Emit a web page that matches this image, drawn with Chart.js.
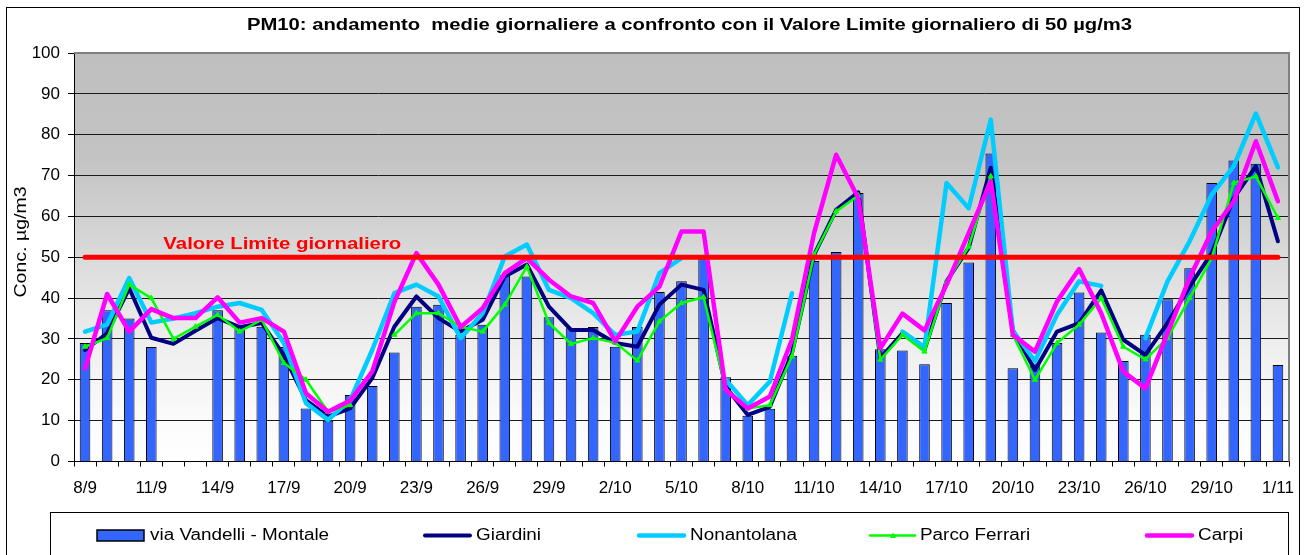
<!DOCTYPE html>
<html><head><meta charset="utf-8">
<script src="https://cdn.jsdelivr.net/npm/chart.js@4/dist/chart.umd.min.js"></script>
<style>html,body{margin:0;padding:0;background:#fff;}canvas{display:block}</style>
</head><body>
<canvas id="c" width="1304" height="555"></canvas>
<script>
const dates = ['8/9','9/9','10/9','11/9','12/9','13/9','14/9','15/9','16/9','17/9','18/9','19/9','20/9','21/9','22/9','23/9','24/9','25/9','26/9','27/9','28/9','29/9','30/9',
  '1/10','2/10','3/10','4/10','5/10','6/10','7/10','8/10','9/10','10/10','11/10','12/10','13/10','14/10','15/10','16/10','17/10','18/10','19/10','20/10','21/10','22/10','23/10','24/10','25/10','26/10','27/10','28/10','29/10','30/10','31/10','1/11'];
const vandelli = [29,37,35,28,null,null,37,33,33,28,13,10,16.3,18.5,26.7,37.9,38.4,31,33.5,45.6,45.3,35.3,32.6,
  32.9,28.1,32.9,41.5,44.1,49.8,20.6,11.2,12.9,25.9,49.1,51.3,65.7,27.5,27.2,23.8,38.8,48.7,75.4,22.8,24,29,41.4,31.6,24.6,31,39.7,47.3,68.2,73.7,72.9,23.6];
const giardini = [27.3,31.4,42.4,30.3,28.8,32,35.1,32.9,33.9,26,15,11,13,20.4,33,40.4,35.1,31.8,34.7,45.3,48.2,37.9,32.2,
  32.2,29,28.1,38.4,43.3,42,18.3,11.4,13.4,26.5,50.6,61.6,65.9,25.3,31.4,27.3,44.1,52.3,71.9,32.2,22.4,31.8,33.9,41.9,29.8,26.1,33.9,42.8,51,64.5,72.3,53.9];
const nonantolana = [31.8,33.5,44.9,34,35,36.3,37.9,38.8,37.1,29,14.3,10.2,15,27.3,41.2,43.3,40.4,30.2,36.3,50.2,53.1,42,40,
  36.3,31,31.8,46.1,49.8,null,20,13.8,19.6,41.2,null,null,null,null,31.8,28,68.2,62,83.7,32,24.6,35.9,44.1,43,null,30.2,44.1,53.9,65.3,72.3,85.2,72];
const parcoFerrari = [28.1,30.2,43.3,40,30,33,35.9,31.8,34.7,24.1,20,12.2,13.8,null,31,36.3,36.3,33,31.8,38.4,47.7,33.9,28.8,
  30.2,29.1,24.7,34.3,38.8,40.2,17.9,13,13.8,25.7,50.6,61.2,65.1,24.9,31,26.9,43.8,52.6,69.8,31,20,29,33.5,40,28.1,25,30.2,40,49.8,68.2,69.8,59.6];
const carpi = [22.8,41,31.8,37.3,35.1,35.1,40.2,34,35.1,31.8,16.7,12.2,14.9,22,39,51,43.3,32.9,37.5,46.1,49.8,44.5,40.4,
  38.8,29.4,37.9,42.8,56.3,56.3,17.5,13,15.9,29.8,55.9,75.1,64.5,27.7,36.2,32.1,43.3,55.9,68.6,31,26.9,39.2,47.1,36.3,22,17.9,31.4,44.9,56.3,63.7,78.4,63.7];
const limitValue = 50;
const yMin = 0, yMax = 100, yStep = 10;
const titleText = 'PM10: andamento  medie giornaliere a confronto con il Valore Limite giornaliero di 50 µg/m3';
const yTitleText = 'Conc. µg/m3';
const limitLabel = 'Valore Limite giornaliero';
const seriesNames = ['via Vandelli - Montale','Giardini','Nonantolana','Parco Ferrari','Carpi'];

const FONT = '"Liberation Sans", Arial, sans-serif';

function stretchText(ctx, s, x, y, font, color, align, sx, rot) {
  ctx.save();
  ctx.font = font; ctx.fillStyle = color; ctx.textBaseline = 'middle'; ctx.textAlign = align;
  ctx.translate(x, y);
  if (rot) ctx.rotate(rot);
  ctx.scale(sx, 1);
  ctx.fillText(s, 0, 0);
  ctx.restore();
}
function fitScale(ctx, s, font, w) { ctx.save(); ctx.font = font; const m = ctx.measureText(s).width; ctx.restore(); return w / m; }

const deco = {
  id: 'deco',
  beforeDraw(chart) {
    const ctx = chart.ctx, a = chart.chartArea;
    ctx.save();
    ctx.fillStyle = '#fff'; ctx.fillRect(0, 0, chart.width, chart.height);
    const g = ctx.createLinearGradient(0, a.top, 0, a.bottom);
    g.addColorStop(0, '#bfbfbf'); g.addColorStop(0.25, '#c3c3c3'); g.addColorStop(0.45, '#d5d5d5');
    g.addColorStop(0.6, '#e4e4e4'); g.addColorStop(0.75, '#f1f1f1'); g.addColorStop(0.9, '#fbfbfb'); g.addColorStop(1, '#ffffff');
    ctx.fillStyle = g; ctx.fillRect(a.left, a.top, a.right - a.left, a.bottom - a.top);
    ctx.strokeStyle = '#000'; ctx.lineWidth = 1;
    ctx.strokeRect(6.5, 7.5, 1293, 560);
    ctx.restore();
  },
  afterDraw(chart) {
    const ctx = chart.ctx, a = chart.chartArea;
    const xs = chart.scales.x, ys = chart.scales.y;
    ctx.save();
    ctx.strokeStyle = '#808080'; ctx.lineWidth = 2;
    ctx.beginPath(); ctx.moveTo(a.left, a.top); ctx.lineTo(a.right, a.top); ctx.lineTo(a.right, a.bottom); ctx.stroke();
    const tf = 'bold 16px ' + FONT;
    stretchText(ctx, titleText, (a.left + a.right) / 2 + 8, 26, tf, '#000', 'center', fitScale(ctx, titleText, tf, 885));
    const yf = '16px ' + FONT;
    stretchText(ctx, yTitleText, 22, 242, yf, '#000', 'center', fitScale(ctx, yTitleText, yf, 111), -Math.PI / 2);
    const lf = 'bold 17px ' + FONT;
    stretchText(ctx, limitLabel, xs.getPixelForValue(3) + 12, ys.getPixelForValue(limitValue) - 13, lf, '#ff0000', 'left', fitScale(ctx, limitLabel, lf, 238));
    ctx.strokeStyle = '#000'; ctx.lineWidth = 1;
    ctx.strokeRect(50.5, 512.5, 1238, 60);
    const ly = 535.5;
    const ds = chart.data.datasets;
    const legendX = [[97, 150], [423, 476], [637, 690], [868, 920], [1145, 1198]];
    const lgf = '16px ' + FONT;
    for (let i = 0; i < 5; i++) {
      const d = ds[i], sx = legendX[i][0];
      if (i === 0) {
        ctx.fillStyle = d.backgroundColor; ctx.fillRect(sx, ly - 5.5, 47, 11);
        ctx.strokeStyle = '#000'; ctx.lineWidth = 1.5; ctx.strokeRect(sx, ly - 5.5, 47, 11);
      } else {
        ctx.strokeStyle = d.borderColor; ctx.lineWidth = d.borderWidth; ctx.lineCap = 'round';
        ctx.beginPath(); ctx.moveTo(sx + 2, ly); ctx.lineTo(sx + 47, ly); ctx.stroke();
        if (d.pointRadius > 0) {
          ctx.fillStyle = d.borderColor; ctx.beginPath();
          ctx.moveTo(sx + 25, ly - 3); ctx.lineTo(sx + 28, ly + 2.5); ctx.lineTo(sx + 22, ly + 2.5); ctx.closePath(); ctx.fill();
        }
      }
      stretchText(ctx, seriesNames[i], legendX[i][1], ly, lgf, '#000', 'left', 1.18);
    }
    ctx.restore();
  }
};

const lineBase = { type: 'line', pointRadius: 0, pointHoverRadius: 0, tension: 0, spanGaps: false, borderJoinStyle: 'round', borderCapStyle: 'round', fill: false };

new Chart(document.getElementById('c'), {
  type: 'bar',
  data: {
    labels: dates,
    datasets: [
      { type: 'bar', label: seriesNames[0], data: vandelli, backgroundColor: '#3366ff', borderColor: '#000', borderWidth: 1, barPercentage: 0.48, categoryPercentage: 1, order: 10 },
      Object.assign({}, lineBase, { label: seriesNames[1], data: giardini, borderColor: '#000080', borderWidth: 4, order: 5 }),
      Object.assign({}, lineBase, { label: seriesNames[2], data: nonantolana, borderColor: '#00ccff', borderWidth: 4.5, order: 4 }),
      Object.assign({}, lineBase, { label: seriesNames[3], data: parcoFerrari, borderColor: '#00ff00', borderWidth: 2.5, order: 3,
        pointRadius: 3, pointStyle: 'triangle', pointBackgroundColor: '#00ff00', pointBorderColor: '#00ff00', pointBorderWidth: 1 }),
      Object.assign({}, lineBase, { label: seriesNames[4], data: carpi, borderColor: '#ff00ff', borderWidth: 4.5, order: 2 }),
      Object.assign({}, lineBase, { label: 'Valore Limite', data: dates.map(() => limitValue), borderColor: '#ff0000', borderWidth: 5, order: 1 })
    ]
  },
  options: {
    responsive: false, animation: false, devicePixelRatio: 1,
    events: [],
    layout: { padding: { left: 0, right: 15, top: 53, bottom: 0 } },
    plugins: { legend: { display: false }, tooltip: { enabled: false }, title: { display: false } },
    scales: {
      x: {
        type: 'category', offset: true,
        grid: { display: true, drawOnChartArea: false, drawTicks: true, tickLength: 5, color: '#000', offset: true },
        border: { display: true, color: '#000', width: 1 },
        ticks: { autoSkip: false, maxRotation: 0, minRotation: 0, padding: 12, color: '#000',
          font: { family: FONT, size: 17 },
          callback: (v, i) => (i % 3 === 0 ? dates[i] : '') },
        afterFit(s) { s.height = 93.5; s.paddingLeft = 0; s.paddingRight = 0; }
      },
      y: {
        min: yMin, max: yMax,
        grid: { color: c => (c.tick && c.tick.value === yMax ? 'rgba(0,0,0,0)' : '#1a1a1a'), tickColor: '#000', tickLength: 6, lineWidth: 1 },
        border: { display: true, color: '#000', width: 1 },
        ticks: { stepSize: yStep, padding: 8, color: '#000', font: { family: FONT, size: 17 } },
        afterFit(s) { s.width = 74; s.paddingTop = 0; s.paddingBottom = 0; }
      }
    }
  },
  plugins: [deco]
});
</script>
</body></html>
